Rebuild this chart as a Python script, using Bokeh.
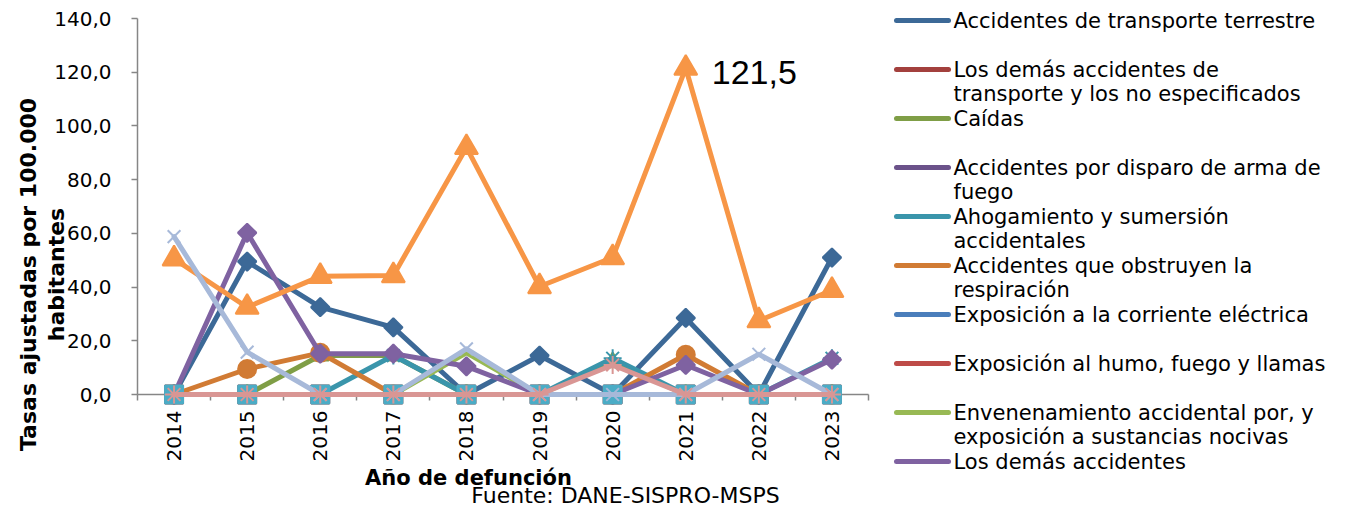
import math
from bokeh.plotting import figure
from bokeh.models import Range1d, FixedTicker, Label, ColumnDataSource, CustomJSTickFormatter
from bokeh.embed import file_html
from bokeh.resources import INLINE
from bokeh.core.properties import value

# ---------------- data ----------------
years = ["2014", "2015", "2016", "2017", "2018", "2019", "2020", "2021", "2022", "2023"]

transporte_terrestre = [0.0, 49.5, 32.5, 25.0, 0.0, 14.5, 0.0, 28.5, 0.0, 51.0]
demas_transporte = [0.0, 0.0, 0.0, 0.0, 0.0, 0.0, 0.0, 0.0, 0.0, 0.0]
caidas = [0.0, 0.0, 14.5, 14.5, 0.0, 0.0, 12.0, 0.0, 0.0, 0.0]
disparo = [0.0, 0.0, 0.0, 0.0, 0.0, 0.0, 0.0, 0.0, 0.0, 0.0]
ahogamiento = [0.0, 0.0, 0.0, 14.5, 0.0, 0.0, 13.5, 0.0, 0.0, 13.5]
obstruyen = [0.0, 9.5, 15.5, 0.0, 0.0, 0.0, 0.0, 14.8, 0.0, 0.0]
corriente = [0.0, 0.0, 0.0, 0.0, 0.0, 0.0, 0.0, 0.0, 0.0, 0.0]
humo = [0.0, 0.0, 0.0, 0.0, 0.0, 0.0, 0.0, 0.0, 0.0, 0.0]
envenenamiento = [0.0, 0.0, 0.0, 0.0, 15.5, 0.0, 0.0, 0.0, 0.0, 0.0]
demas_accidentes = [0.0, 60.2, 15.2, 15.2, 10.5, 0.0, 0.0, 11.0, 0.0, 13.0]
suicidios = [0.0, 0.0, 0.0, 0.0, 0.0, 0.0, 0.0, 0.0, 0.0, 0.0]
homicidios = [50.5, 32.5, 44.0, 44.3, 92.0, 40.2, 51.0, 121.5, 27.5, 38.8]
no_determinada = [58.8, 15.8, 0.0, 0.0, 17.0, 0.0, 0.0, 0.0, 15.0, 0.0]
demas_causas = [0.0, 0.0, 0.0, 0.0, 0.0, 0.0, 11.0, 0.0, 0.0, 0.0]

legend_labels = [
    "Accidentes de transporte terrestre",
    "Los demás accidentes de\ntransporte y los no especificados",
    "Caídas",
    "Accidentes por disparo de arma de\nfuego",
    "Ahogamiento y sumersión\naccidentales",
    "Accidentes que obstruyen la\nrespiración",
    "Exposición a la corriente eléctrica",
    "Exposición al humo, fuego y llamas",
    "Envenenamiento accidental por, y\nexposición a sustancias nocivas",
    "Los demás accidentes",
]

y_ticks = [0, 20, 40, 60, 80, 100, 120, 140]
y_tick_labels = ["0,0", "20,0", "40,0", "60,0", "80,0", "100,0", "120,0", "140,0"]

y_title = "Tasas ajustadas por 100.000\nhabitantes"
x_title = "Año de defunción"
source_note = "Fuente: DANE-SISPRO-MSPS"

# ---------------- styles ----------------
series = [
    (transporte_terrestre, "#3C6997", "diamond"),
    (demas_transporte, "#A3403D", "square"),
    (caidas, "#7F9E46", "triangle"),
    (disparo, "#6B528A", "x"),
    (ahogamiento, "#3A95AB", "asterisk"),
    (obstruyen, "#D17B34", "circle"),
    (corriente, "#4A7EBB", "cross"),
    (humo, "#BE4B48", None),
    (envenenamiento, "#98B954", None),
    (demas_accidentes, "#7F62A1", "diamond"),
    (suicidios, "#4BACC6", "square"),
    (homicidios, "#F79646", "triangle"),
    (no_determinada, "#A7B9D9", "x"),
    (demas_causas, "#D99694", "asterisk"),
]
big_triangle_series = 11  # index of the orange triangle series

plot_sizes = {"diamond": 13, "square": 18, "triangle": 17, "x": 18, "asterisk": 18, "circle": 18, "cross": 16}
legend_sizes = {"diamond": 8, "square": 10, "triangle": 11, "x": 9, "asterisk": 9, "circle": 10, "cross": 9}

FONT = "DejaVu Sans"
AXIS_GRAY = "#868686"

# geometry in picture pixels
PAGE_L, PAGE_R, PAGE_T, PAGE_B = 137, 868, 18, 394
W, H = 1332, 509

x_pos = [i + 0.5 for i in range(len(years))]

p = figure(width=W, height=H, x_range=Range1d(0, len(years)), y_range=Range1d(0, 140),
           output_backend="svg", toolbar_location=None,
           min_border_left=PAGE_L, min_border_right=W - PAGE_R,
           min_border_top=PAGE_T, min_border_bottom=H - PAGE_B)
p.outline_line_color = None
p.grid.visible = False
p.background_fill_color = "white"
p.border_fill_color = "white"
# pixel ranges used for the titles and the legend
p.extra_x_ranges = {"page": Range1d(PAGE_L, PAGE_R)}
p.extra_y_ranges = {"page": Range1d(PAGE_B, PAGE_T)}

# x axis
xa = p.xaxis[0]
xa.ticker = FixedTicker(ticks=x_pos, minor_ticks=list(range(len(years) + 1)))
xa.formatter = CustomJSTickFormatter(args=dict(labels=years), code="return labels[Math.floor(tick)];")
xa.major_tick_out = 0
xa.major_tick_in = 0
xa.minor_tick_out = 6
xa.minor_tick_in = 0
xa.minor_tick_line_color = AXIS_GRAY
xa.minor_tick_line_width = 1.5
xa.axis_line_color = AXIS_GRAY
xa.axis_line_width = 1.5
xa.major_label_orientation = math.pi / 2
xa.major_label_standoff = 10
xa.major_label_text_font = FONT
xa.major_label_text_font_size = "20px"
xa.major_label_text_color = "black"

# y axis
ya = p.yaxis[0]
ya.ticker = FixedTicker(ticks=y_ticks, minor_ticks=[])
ya.major_label_overrides = {t: lab for t, lab in zip(y_ticks, y_tick_labels)}
ya.major_tick_out = 6
ya.major_tick_in = 0
ya.major_tick_line_color = AXIS_GRAY
ya.major_tick_line_width = 1.5
ya.axis_line_color = AXIS_GRAY
ya.axis_line_width = 1.5
ya.major_label_standoff = 20
ya.major_label_text_font = FONT
ya.major_label_text_font_size = "20px"
ya.major_label_text_color = "black"

# titles (text glyphs in pixel coordinates)
p.text([42], [274], text=[y_title], angle=math.pi / 2, text_align="center", text_baseline="middle",
       text_font=value(FONT), text_font_size="22px", text_font_style="bold", text_color="black",
       text_line_height=1.1, x_range_name="page", y_range_name="page", level="overlay")
p.text([468], [477], text=[x_title], text_align="center", text_baseline="middle",
       text_font=value(FONT), text_font_size="21px", text_font_style="bold", text_color="black",
       x_range_name="page", y_range_name="page", level="overlay")
p.text([625], [495], text=[source_note], text_align="center", text_baseline="middle",
       text_font=value(FONT), text_font_size="22px", text_color="black",
       x_range_name="page", y_range_name="page", level="overlay")

# series
for k, (vals, col, mk) in enumerate(series):
    src = ColumnDataSource(dict(x=x_pos, y=vals))
    p.line("x", "y", source=src, line_color=col, line_width=5, line_join="round", line_cap="round",
           level="overlay")
    if mk:
        size = plot_sizes[mk] if k != big_triangle_series else 23
        p.scatter("x", "y", source=src, marker=("square" if mk == "diamond" else mk), size=size,
                  angle=(math.pi / 4 if mk == "diamond" else 0),
                  fill_color=col, line_color=col, line_width=2, level="overlay")

# label of the maximum
imax = max(range(len(homicidios)), key=lambda i: homicidios[i])
p.add_layout(Label(x=x_pos[imax], y=homicidios[imax], text=f"{homicidios[imax]:.1f}".replace(".", ","),
                   x_offset=26, y_offset=-4, text_baseline="middle", text_align="left",
                   text_font="Liberation Sans", text_font_size="34px", text_color="black"))

# legend (drawn in pixel coordinates, right of the plot area)
row_gap = 49
y0 = 20
for i, lab in enumerate(legend_labels):
    vals, col, mk = series[i]
    yy = y0 + row_gap * i
    p.line([896, 948], [yy, yy], line_color=col, line_width=5, line_cap="round",
           x_range_name="page", y_range_name="page", level="overlay")
    if mk:
        p.scatter([922], [yy], marker=("square" if mk == "diamond" else mk), size=legend_sizes[mk],
                  angle=(math.pi / 4 if mk == "diamond" else 0),
                  fill_color=col, line_color=col, line_width=2,
                  x_range_name="page", y_range_name="page", level="overlay")
    p.text([953], [yy - 12], text=[lab], text_baseline="top", text_align="left",
           text_font=value(FONT), text_font_size="21px", text_color="black", text_line_height=1.0,
           x_range_name="page", y_range_name="page", level="overlay")

open("out.html", "w").write(file_html(p, INLINE))
